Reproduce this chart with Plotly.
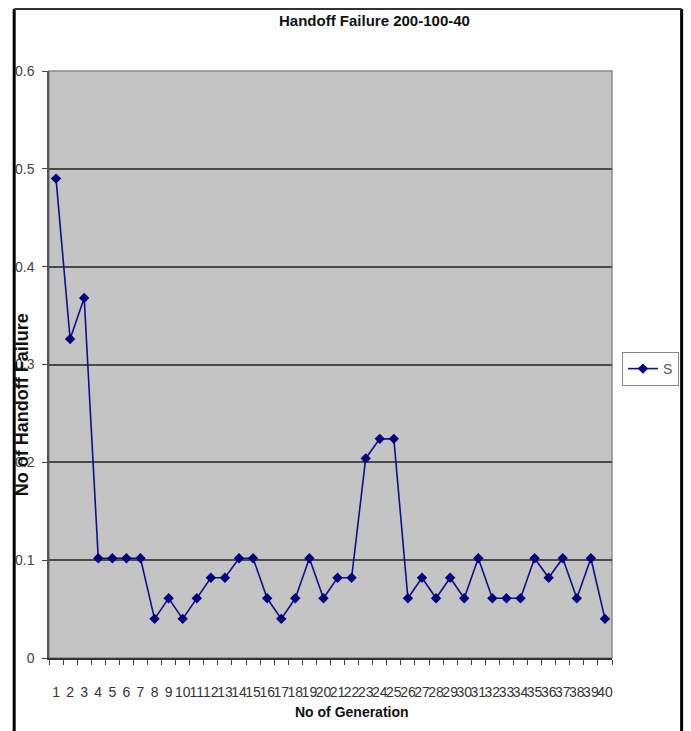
import plotly.graph_objects as go

generations = [str(i) for i in range(1, 41)]
failures = [0.49, 0.326, 0.368, 0.102, 0.102, 0.102, 0.102, 0.04, 0.061, 0.04,
            0.061, 0.082, 0.082, 0.102, 0.102, 0.061, 0.04, 0.061, 0.102, 0.061,
            0.082, 0.082, 0.204, 0.224, 0.224, 0.061, 0.082, 0.061, 0.082, 0.061,
            0.102, 0.061, 0.061, 0.061, 0.102, 0.082, 0.102, 0.061, 0.102, 0.04]
y_ticks = [0, 0.1, 0.2, 0.3, 0.4, 0.5, 0.6]
y_ticklabels = ["0", "0.1", "0.2", "0.3", "0.4", "0.5", "0.6"]
series_name = "S"
title_text = "Handoff Failure 200-100-40"
x_title = "No of Generation"
y_title = "No of Handoff Failure"

W, H = 691, 731
L, R, T, B = 49, 615, 71, 658
pw, ph = R - L, B - T

def px(x):
    return (x - L) / pw

def py(y):
    return (B - y) / ph

FONT = "Liberation Sans Narrow, Arial Narrow, Liberation Sans, Arial, sans-serif"

fig = go.Figure()
fig.add_trace(go.Scatter(
    x=generations, y=failures, name=series_name, mode="lines+markers",
    line=dict(color="#10108a", width=1.6),
    marker=dict(symbol="diamond", size=8, color="#000080"),
))

fig.update_layout(
    width=W, height=H,
    margin=dict(l=L, r=W - R, t=T, b=H - B, pad=0),
    paper_bgcolor="white", plot_bgcolor="#C4C4C4",
    font=dict(family=FONT, size=13, color="#222"),
    showlegend=True,
    legend=dict(x=px(625), y=py(352), xanchor="left", yanchor="top",
                bordercolor="#888", borderwidth=1, bgcolor="white",
                font=dict(family=FONT, size=14, color="#555"),
                itemwidth=30, tracegroupgap=0),
    xaxis=dict(type="category", range=[-0.5, 39.5], tickmode="array",
               tickvals=generations, ticktext=generations, tickangle=0,
               ticks="outside", tickson="boundaries", ticklen=5, tickcolor="#444",
               showline=True, linecolor="#333", linewidth=1.5, showgrid=False,
               tickfont=dict(family=FONT, size=14, color="#333"), ticklabelstandoff=20,
               fixedrange=True),
    yaxis=dict(range=[0, 0.6], tickmode="array", tickvals=y_ticks, ticktext=y_ticklabels,
               ticks="outside", ticklen=5, tickcolor="#444",
               showline=True, linecolor="#555", linewidth=1.5,
               showgrid=True, gridcolor="#4a4a4a", gridwidth=2, zeroline=False,
               tickfont=dict(family=FONT, size=14, color="#444"), ticklabelstandoff=5,
               fixedrange=True),
)

shapes = [
    dict(type="rect", xref="paper", yref="paper", x0=0, x1=1, y0=0, y1=1,
         line=dict(color="#8a8a8a", width=1.5), layer="below"),
    dict(type="line", xref="paper", yref="paper", x0=px(14), x1=px(14), y0=py(9), y1=py(740),
         line=dict(color="black", width=3)),
    dict(type="line", xref="paper", yref="paper", x0=px(685), x1=px(685), y0=py(9), y1=py(740),
         line=dict(color="black", width=3)),
    dict(type="line", xref="paper", yref="paper", x0=px(14), x1=px(685), y0=py(9), y1=py(9),
         line=dict(color="#333", width=2)),
]
fig.update_layout(shapes=shapes)

fig.add_annotation(text="<b>" + title_text + "</b>", xref="paper", yref="paper", x=px(376), y=py(20),
                   xanchor="center", yanchor="middle", showarrow=False,
                   font=dict(family=FONT, size=15, color="#111"))
fig.add_annotation(text="<b>" + x_title + "</b>", xref="paper", yref="paper", x=px(354), y=py(712),
                   xanchor="center", yanchor="middle", showarrow=False,
                   font=dict(family=FONT, size=14, color="#111"))
fig.add_annotation(text="<b>" + y_title + "</b>", xref="paper", yref="paper", x=px(22), y=py(405),
                   xanchor="center", yanchor="middle", showarrow=False, textangle=-90,
                   font=dict(family=FONT, size=18, color="#111"))

fig.write_html("out.html", config={"displayModeBar": False},
               post_script="document.body.style.margin='0';document.body.style.overflow='hidden';")
